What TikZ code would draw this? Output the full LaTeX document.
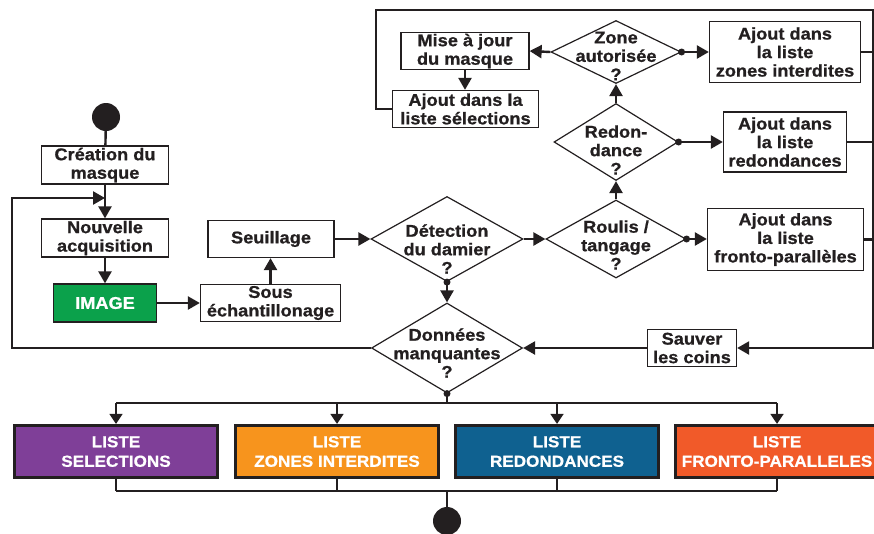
\documentclass[tikz,border=0pt]{standalone}
\usepackage{fontspec}
\setmainfont{Liberation Sans}[FakeStretch=1.07,BoldFeatures={FakeBold=0.8}]
\usetikzlibrary{arrows.meta,shapes.geometric}
\definecolor{linec}{HTML}{231F20}
\definecolor{imggreen}{HTML}{0BA14B}
\definecolor{lpurple}{HTML}{7F3F98}
\definecolor{lorange}{HTML}{F7941D}
\definecolor{lblue}{HTML}{0F6190}
\definecolor{lred}{HTML}{F15A29}

\begin{document}
\begin{tikzpicture}[x=1pt,y=-1pt,
    font=\bfseries\fontsize{17}{18.5}\selectfont, text=linec,
    >={Triangle[length=12pt,width=13pt]},
    box/.style={draw=linec,line width=1.3pt,fill=white,align=center,inner sep=0pt},
    dec/.style={diamond,draw=linec,line width=1.2pt,fill=white,inner sep=0pt},
    dectext/.style={align=center,yshift=#1},
    liste/.style={draw=linec,line width=3.2pt,fill=#1,text=white,align=center,inner sep=0pt,
        minimum width=203pt,minimum height=52pt,font=\bfseries\fontsize{16}{19.5}\selectfont},
    flow/.style={draw=linec,line width=2.4pt},
    bus/.style={draw=linec,line width=1.7pt,>={Triangle[length=10pt,width=13pt]}},
    term/.style={circle,fill=linec,inner sep=0pt,minimum size=28pt}]
    \useasboundingbox (0,0) rectangle (874,533);
    \clip (0,0) rectangle (874,533);

    \node[term] (start) at (106,117) {};
    \node[box,minimum width=127pt,minimum height=38pt] (creation) at (105,165) {Création du\\masque};
    \node[box,minimum width=127pt,minimum height=38pt] (nouvelle) at (105,238) {Nouvelle\\acquisition};
    \node[box,fill=imggreen,text=white,minimum width=103pt,minimum height=38pt] (image) at (105,303) {IMAGE};
    \node[box,minimum width=140pt,minimum height=37pt] (sous) at (270.5,303) {Sous\\échantillonage};
    \node[box,minimum width=126pt,minimum height=37pt] (seuil) at (271,239) {Seuillage};

    \node[dec,minimum width=152pt,minimum height=85pt,
        label={[dectext=-10pt]center:{Détection\\du damier\\?}}] (detect) at (447,239) {};
    \node[dec,minimum width=151pt,minimum height=90pt,
        label={[dectext=-5pt]center:{Données\\manquantes\\?}}] (donnees) at (447,348) {};
    \node[dec,minimum width=140pt,minimum height=78pt,
        label={[dectext=-6pt]center:{Roulis /\\tangage\\?}}] (roulis) at (616,239) {};
    \node[dec,minimum width=124pt,minimum height=77pt,
        label={[dectext=-8pt]center:{Redon-\\dance\\?}}] (redond) at (616,142) {};
    \node[dec,minimum width=130pt,minimum height=63pt,
        label={[dectext=-4pt]center:{Zone\\autorisée\\?}}] (zone) at (616,52) {};

    \node[box,minimum width=128pt,minimum height=37pt] (mise) at (465,51) {Mise à jour\\du masque};
    \node[box,minimum width=146pt,minimum height=37pt] (ajoutsel) at (465.5,109) {Ajout dans la\\liste sélections};
    \node[box,minimum width=151pt,minimum height=61pt] (zonesbox) at (785,52) {Ajout dans\\la liste\\zones interdites};
    \node[box,minimum width=123pt,minimum height=60pt] (redbox) at (785,142) {Ajout dans\\la liste\\redondances};
    \node[box,minimum width=156pt,minimum height=62pt] (frontobox) at (785.5,239.5) {Ajout dans\\la liste\\fronto-parallèles};
    \node[box,minimum width=89pt,minimum height=37pt] (sauver) at (692,348) {Sauver\\les coins};

    \node[liste=lpurple] (lsel) at (116,451.5) {LISTE\\SELECTIONS};
    \node[liste=lorange] (lzon) at (337,451.5) {LISTE\\ZONES INTERDITES};
    \node[liste=lblue] (lred) at (557,451.5) {LISTE\\REDONDANCES};
    \node[liste=lred] (lfro) at (777,451.5) {LISTE\\FRONTO-PARALLELES};
    \node[term] (stop) at (447,521) {};

    \coordinate (busT) at (873,10);
    \coordinate (busB) at (873,348);
    \coordinate (loopT) at (376,10);
    \coordinate (loopL) at (12,198);
    \coordinate (split) at (447,403);
    \coordinate (join) at (447,491);

    \draw[flow] (start) -- (creation);
    \draw[flow,->] (creation) -- (nouvelle);
    \draw[flow,->] (nouvelle) -- (image);
    \draw[flow,->] (image) -- (sous);
    \draw[flow,->] (sous.north) -- (sous.north |- seuil.south);
    \draw[flow,->] (seuil) -- (detect);
    \draw[flow,->] (detect.south) -- (donnees.north);
    \draw[flow,->] (detect.east) -- (roulis.west);
    \draw[flow,->] (roulis.north) -- (redond.south);
    \draw[flow,->] (redond.north) -- (zone.south);
    \draw[flow,->] (zone.west) -- (mise.east);
    \draw[flow,->] (mise.south) -- (mise.south |- ajoutsel.north);
    \draw[flow,->] (zone.east) -- (zonesbox.west);
    \draw[flow,->] (redond.east) -- (redbox.west);
    \draw[flow,->] (roulis.east) -- (roulis.east -| frontobox.west);
    \foreach \b in {zonesbox,redbox,frontobox}
        \draw[flow] (\b.east) -- (\b.east -| busT);
    \draw[flow,->] (ajoutsel.west) -| (loopT) -- (busT) -- (busB) -- (sauver.east);
    \draw[flow,->] (sauver) -- (donnees.east);
    \draw[flow,->] (donnees.west) -| (loopL) -- (loopL -| creation.south);
    \foreach \p in {zone.east,redond.east,roulis.east,detect.south,donnees.south}
        \fill[linec] (\p) circle (3.5pt);

    \draw[bus] (donnees.south) -- (split);
    \draw[bus] (lsel.north |- split) -- (lfro.north |- split);
    \draw[bus] (lsel.south |- join) -- (lfro.south |- join);
    \foreach \l in {lsel,lzon,lred,lfro} {
        \draw[bus,->] (\l.north |- split) -- (\l.north);
        \draw[bus] (\l.south) -- (\l.south |- join);
    }
    \draw[bus] (join) -- (stop);
\end{tikzpicture}
\end{document}
